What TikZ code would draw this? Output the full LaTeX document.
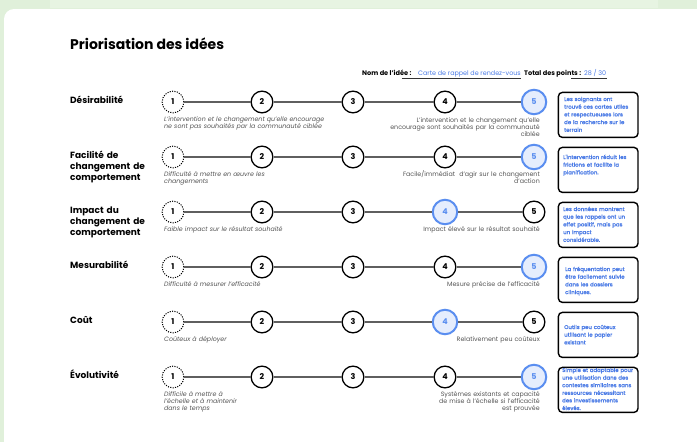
\documentclass[tikz,border=0pt]{standalone}
\usepackage{fontspec}
\setmainfont{Poppins}
\IfFontExistsTF{Poppins Medium}{\newfontfamily\boxfont[FakeBold=0.6]{Poppins Medium}}{\newfontfamily\boxfont[FakeBold=0.9]{Poppins}}
\definecolor{bggreen}{RGB}{224,240,218}
\definecolor{bgstripe}{RGB}{231,244,226}
\definecolor{selblue}{RGB}{90,142,240}
\definecolor{selfill}{RGB}{229,237,253}
\definecolor{boxblue}{RGB}{76,124,230}
\definecolor{descgray}{RGB}{85,85,85}
\definecolor{linkgray}{RGB}{95,95,95}
\begin{document}
\begin{tikzpicture}[x=1pt,y=-1pt,
  titletext/.style={font=\bfseries\fontsize{14}{16}\selectfont, anchor=base west, inner sep=0},
  hdrb/.style={font=\bfseries\fontsize{6.6}{7}\selectfont, anchor=base west, inner sep=0},
  hdrv/.style={font=\fontsize{6.4}{7}\selectfont, text=boxblue, anchor=base west, inner sep=0},
  uline/.style={draw=black!80, line width=0.6pt},
  crit/.style={font=\bfseries\fontsize{9}{11}\selectfont, anchor=base west, inner sep=0, align=left, text width=85pt},
  ldesc/.style={font=\itshape\fontsize{6.3}{7}\selectfont, text=descgray, anchor=base west, inner sep=0, align=left, text width=180pt},
  rdesc/.style={font=\fontsize{6.3}{7}\selectfont, text=descgray, anchor=base east, inner sep=0, align=right, text width=170pt},
  plainc/.style={circle, draw=black, line width=1.3pt, fill=white, minimum size=21.7pt, inner sep=0, font=\bfseries\fontsize{8}{8}\selectfont},
  dotc/.style={plainc, line width=1pt, dash pattern=on 1.1pt off 1.3pt},
  selc/.style={circle, draw=selblue, line width=2pt, fill=selfill, minimum size=24.5pt, inner sep=0, text=selblue, font=\bfseries\fontsize{8}{8}\selectfont},
  link/.style={draw=linkgray, line width=1.2pt},
  boxc/.style={draw=black, line width=1.4pt, rounded corners=4pt, minimum width=79.6pt, minimum height=45pt, inner sep=0, anchor=north west},
  boxt/.style={font=\boxfont\fontsize{5.4}{7.7}\selectfont, text=boxblue, anchor=base west, inner sep=0, align=left, text width=76pt}
]
\useasboundingbox (0,0) rectangle (697,442);
\begin{scope}
  \clip (0,0) rectangle (697,442);
  \fill[bggreen] (0,0) rectangle (697,442);
  \fill[bgstripe] (50,0) rectangle (658,8);
  \fill[white, rounded corners=10pt] (4,9) rectangle (730,480);
\end{scope}

% title and header
\node[titletext] (title) at (70,49) {Priorisation des idées};
\node[hdrb] (nom) at (362,75.5) {Nom de l'idée :};
\node[hdrv] (idee) at (418,75.5) {Carte de rappel de rendez-vous};
\node[hdrb] (tot) at (524,75.5) {Total des points :};
\node[hdrv] (pts) at (584,75.5) {28 / 30};
\draw[uline] ([xshift=-10pt,yshift=-2.5pt]nom.base east) -- ([yshift=-2.5pt]idee.base east);
\draw[uline] ([xshift=-10pt,yshift=-2.5pt]tot.base east) -- ([xshift=1pt,yshift=-2.5pt]pts.base east);

% scales
\foreach \r/\cy/\sel in {1/102/5,2/157/5,3/212/4,4/267/5,5/322/4,6/377/5}{
  \foreach \i/\cx in {1/173,2/262,3/353,4/445,5/534}{
    \ifnum\i=\sel\relax
      \node[selc] (c\r-\i) at (\cx,\cy) {\i};
    \else\ifnum\i=1\relax
      \node[dotc] (c\r-\i) at (\cx,\cy) {\i};
    \else
      \node[plainc] (c\r-\i) at (\cx,\cy) {\i};
    \fi\fi
  }
  \foreach \i in {1,...,4}{
    \pgfmathtruncatemacro\j{\i+1}
    \draw[link] (c\r-\i) -- (c\r-\j);
  }
  \node[boxc] (b\r) at (557.7,\cy-10.3) {};
}

% row 1
\node[crit] (l1) at (70,103) {Désirabilité};
\node[ldesc] (dl1) at (164,121) {L'intervention et le changement qu'elle encourage\\ne sont pas souhaités par la communauté ciblée};
\node[rdesc] (dr1) at (540,122) {L'intervention et le changement qu'elle\\encourage sont souhaités par la communauté\\ciblée};
\node[boxt] (t1) at (564,101) {Les soignants ont\\trouvé ces cartes utiles\\et respectueuses lors\\de la recherche sur le\\terrain};

% row 2
\node[crit] (l2) at (70,158) {Facilité de\\changement de\\comportement};
\node[ldesc] (dl2) at (164,176) {Difficulté à mettre en œuvre les\\changements};
\node[rdesc] (dr2) at (540,176) {Facile/immédiat\ \ d'agir sur le changement\\d'action};
\node[boxt] (t2) at (563,159) {L'intervention réduit les\\frictions et facilite la\\planification.};

% row 3
\node[crit] (l3) at (70,213) {Impact du\\changement de\\comportement};
\node[ldesc] (dl3) at (164,231) {Faible impact sur le résultat souhaité};
\node[rdesc] (dr3) at (540,231) {Impact élevé sur le résultat souhaité};
\node[boxt] (t3) at (563,211) {Les données montrent\\que les rappels ont un\\effet positif, mais pas\\un impact\\considérable.};

% row 4
\node[crit] (l4) at (70,268) {Mesurabilité};
\node[ldesc] (dl4) at (164,286) {Difficulté à mesurer l'efficacité};
\node[rdesc] (dr4) at (540,286) {Mesure précise de l'efficacité};
\node[boxt] (t4) at (565,271) {La fréquentation peut\\être facilement suivie\\dans les dossiers\\cliniques.};

% row 5
\node[crit] (l5) at (70,323) {Coût};
\node[ldesc] (dl5) at (164,341) {Coûteux à déployer};
\node[rdesc] (dr5) at (540,341) {Relativement peu coûteux};
\node[boxt] (t5) at (564,329) {Outils peu coûteux\\utilisant le papier\\existant};

% row 6
\node[crit] (l6) at (70,378) {Évolutivité};
\node[ldesc] (dl6) at (164,396) {Difficile à mettre à\\l'échelle et à maintenir\\dans le temps};
\node[rdesc] (dr6) at (540,396) {Systèmes existants et capacité\\de mise à l'échelle si l'efficacité\\est prouvée};
\node[boxt, font=\boxfont\fontsize{5.4}{7.6}\selectfont] (t6) at (562,372) {Simple et adaptable pour\\une utilisation dans des\\contextes similaires sans\\ressources nécessitant\\des investissements\\élevés.};
\end{tikzpicture}
\end{document}
